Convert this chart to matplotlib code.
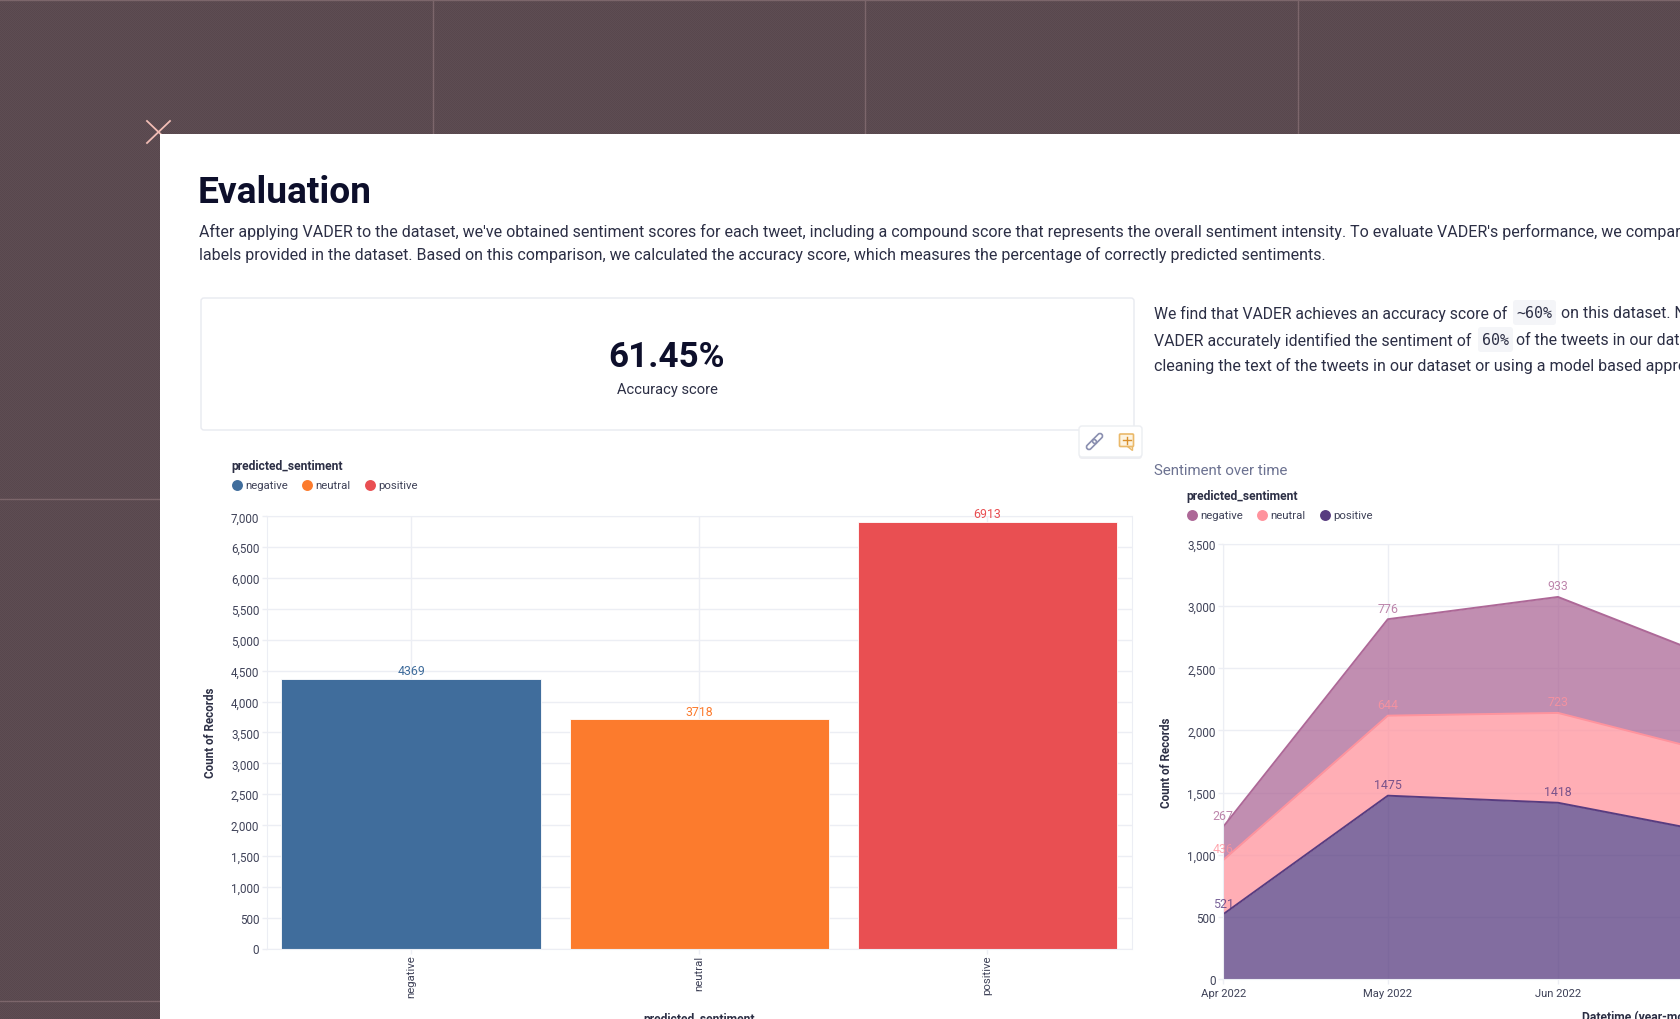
from datetime import date

import matplotlib
matplotlib.use("Agg")
import matplotlib.dates as mdates
import matplotlib.pyplot as plt
import numpy as np
from matplotlib.patches import FancyBboxPatch, Polygon, Rectangle
from matplotlib.ticker import FuncFormatter
from matplotlib.transforms import Affine2D

plt.rcParams["font.family"] = ["Roboto", "DejaVu Sans"]

# Bar chart data
sentiments = ["negative", "neutral", "positive"]
sentiment_counts = [4369, 3718, 6913]
bar_colors = ["#406d9c", "#fc7b2d", "#e94f52"]
bar_ticks = list(range(0, 7001, 500))

# Area chart data (July is only partly visible, it runs off the page)
months = [date(2022, 4, 1), date(2022, 5, 1), date(2022, 6, 1), date(2022, 7, 1)]
month_labels = ["Apr 2022", "May 2022", "Jun 2022"]
positive_by_month = [521, 1475, 1418, 1163]
neutral_by_month = [436, 644, 723, 640]
negative_by_month = [267, 776, 933, 752]
area_colors = {"negative": "#ad6897", "neutral": "#ff939d", "positive": "#583c80"}
area_ticks = list(range(0, 3501, 500))

# Text of the page
body_lines = [
    "After applying VADER to the dataset, we've obtained sentiment scores for each tweet, including a compound score that represents the overall sentiment intensity. To evaluate VADER's performance, we compar",
    "labels provided in the dataset. Based on this comparison, we calculated the accuracy score, which measures the percentage of correctly predicted sentiments.",
]
accuracy_text = "61.45%"

INK = "#0d0f2b"
BODY = "#2c2f45"
TICK = "#3f4258"
GRID = "#eceef4"
PAGE_BG = "#5b4a50"
W, H = 1680, 1020

fig = plt.figure(figsize=(W / 100, H / 100), dpi=100, facecolor=PAGE_BG)

# Page coordinates in pixels, origin top left
page = fig.add_axes([0, 0, 1, 1])
page.axis("off")

# Fine dither of the dark background
yy, xx = np.mgrid[0:H, 0:W]
dither = np.where((xx + yy) % 2 == 0, 3, -3)[..., None] + np.array([0x5b, 0x4a, 0x50])
page.imshow(dither.astype(np.uint8), extent=(0, W, H, 0), interpolation="nearest", aspect="auto", zorder=0)
page.set_xlim(0, W)
page.set_ylim(H, 0)


def inset(left, top, right, bottom):
    return fig.add_axes([left / W, 1 - bottom / H, (right - left) / W, (bottom - top) / H])


# Background lines and corner cross
for x in [433, 865, 1298]:
    page.plot([x, x], [0, 134], color="#7c666b", lw=1)
page.plot([0, W], [0.5, 0.5], color="#7c666b", lw=1)
page.plot([0, 160], [500, 500], color="#7c666b", lw=1)
page.plot([0, 160], [1002, 1002], color="#7c666b", lw=1)
page.plot([147, 170], [144, 122], color="#f2bdb5", lw=1.3)
page.plot([147, 170], [122, 144], color="#f2bdb5", lw=1.3)

# White panel
page.add_patch(Rectangle((160, 134.5), W - 160, H - 134, fc="white", ec="none", zorder=2))

page.text(198, 193, "Evaluation", fontsize=26.7, fontweight="bold", color=INK, va="center", zorder=3)
for y, line in zip([232, 255], body_lines):
    page.text(199, y, line, fontsize=11.55, color=BODY, va="center", zorder=3)

# Accuracy card
page.add_patch(FancyBboxPatch((201, 299), 933, 132, boxstyle="round,pad=0,rounding_size=3",
                              fc="white", ec="#e8eaf0", lw=1, zorder=3))
page.text(667, 358, accuracy_text, fontsize=25.2, fontweight="bold", color=INK, ha="center", va="center", zorder=4)
page.text(667, 390, "Accuracy score", fontsize=10.6, color=BODY, ha="center", va="center", zorder=4)

# Right paragraph with inline code chips
for x0, x1, y0, y1 in [(1513, 1556, 301, 326), (1478, 1513, 328, 353)]:
    page.add_patch(FancyBboxPatch((x0, y0), x1 - x0, y1 - y0, boxstyle="round,pad=0,rounding_size=3",
                                  fc="#f4f5f8", ec="none", zorder=3))
page.text(1154, 314, "We find that VADER achieves an accuracy score of", fontsize=11.3, color=BODY, va="center", zorder=4)
page.text(1534.5, 314, "~60%", fontsize=10.8, family="DejaVu Sans Mono", color=BODY, ha="center", va="center", zorder=4)
page.text(1561, 314, "on this dataset. N", fontsize=11.4, color=BODY, va="center", zorder=4)
page.text(1154, 341, "VADER accurately identified the sentiment of", fontsize=11.45, color=BODY, va="center", zorder=4)
page.text(1495.5, 341, "60%", fontsize=10.8, family="DejaVu Sans Mono", color=BODY, ha="center", va="center", zorder=4)
page.text(1516.5, 341, "of the tweets in our dat", fontsize=11.4, color=BODY, va="center", zorder=4)
page.text(1154, 366, "cleaning the text of the tweets in our dataset or using a model based appro", fontsize=11.5, color=BODY, va="center", zorder=4)

# Floating toolbar
page.add_patch(FancyBboxPatch((1079, 428), 63, 32, boxstyle="round,pad=0,rounding_size=3",
                              fc="#e3e4ea", ec="none", alpha=0.6, zorder=5))
page.add_patch(FancyBboxPatch((1079, 427), 63, 31, boxstyle="round,pad=0,rounding_size=3",
                              fc="white", ec="#eceef2", lw=1, zorder=6))
for cx, cy in [(1091.5, 445.5), (1097.5, 439.5)]:
    link = FancyBboxPatch((cx - 6, cy - 2.5), 12, 5, boxstyle="round,pad=0,rounding_size=2.5",
                          fc="none", ec="#8a8fb0", lw=1.2, zorder=7)
    link.set_transform(Affine2D().rotate_deg_around(cx, cy, -45) + page.transData)
    page.add_patch(link)
page.add_patch(Polygon([(1127, 447), (1132, 447), (1132, 451)], fc="#fdf3e0", ec="#eab96a", lw=1, zorder=7))
page.add_patch(FancyBboxPatch((1119.5, 435), 14, 12.5, boxstyle="round,pad=0,rounding_size=1",
                              fc="#fdf3e0", ec="#eab96a", lw=1.2, zorder=7))
page.plot([1126.5, 1126.5], [437.5, 445], color="#d98f2b", lw=1, zorder=8)
page.plot([1122.5, 1130.5], [441.2, 441.2], color="#d98f2b", lw=1, zorder=8)

page.text(1154, 471.5, "Sentiment over time", fontsize=10.8, color="#6c7291", va="center", zorder=3)


def legend(title_x, title_y, dots, colors):
    page.text(title_x, title_y + 1, "predicted_sentiment", fontsize=8.7, fontweight="bold", color=BODY, va="center", zorder=3)
    for (dot_x, name), color in zip(dots, colors):
        page.scatter([dot_x], [title_y + 20], s=62, color=color, linewidths=0, zorder=3)
        page.text(dot_x + 8.5, title_y + 20, name, fontsize=8.2, color=TICK, va="center", zorder=3)


legend(231, 466, [(237, "negative"), (307, "neutral"), (370, "positive")], bar_colors)
legend(1186, 496, [(1192, "negative"), (1262, "neutral"), (1325, "positive")],
       [area_colors[s] for s in sentiments])


def style_axes(ax):
    ax.set_axisbelow(True)
    ax.grid(True, color=GRID, lw=1)
    for spine in ax.spines.values():
        spine.set_color(GRID)
    ax.tick_params(colors=GRID, length=3.5, width=1, labelcolor=TICK, labelsize=8.4, pad=2)
    ax.yaxis.set_major_formatter(FuncFormatter(lambda v, _: f"{int(v):,}"))


# Bars
ax = inset(267, 517.3, 1131.5, 949.5)
style_axes(ax)
bars = ax.bar(sentiments, sentiment_counts, width=0.9, color=bar_colors, edgecolor="white", linewidth=0.6)
ax.set_xlim(-0.5, 2.5)
ax.set_ylim(0, 7000)
ax.set_yticks(bar_ticks)
ax.tick_params(axis="x", labelrotation=90, pad=1, labelsize=8.2)
for label in ax.get_xticklabels():
    label.set_verticalalignment("top")
for rect, value, color in zip(bars, sentiment_counts, bar_colors):
    ax.annotate(str(value), (rect.get_x() + rect.get_width() / 2, value), xytext=(0, 1),
                textcoords="offset points", ha="center", va="bottom", fontsize=8.9, color=color,
                annotation_clip=False)
ax.set_ylabel("Count of Records", fontsize=8.4, fontweight="bold", color=BODY)
ax.yaxis.set_label_coords(216.5, 733, transform=page.transData)
ax.set_xlabel("predicted_sentiment", fontsize=8.7, fontweight="bold", color=BODY)
ax.xaxis.set_label_coords(699, 1020, transform=page.transData)
ax.xaxis.label.set_verticalalignment("center")

# Stacked areas
ax2 = inset(1223.2, 545, W, 980)
style_axes(ax2)
ax2.spines["right"].set_visible(False)
ax2.tick_params(axis="x", pad=3, labelsize=8.1)
x = mdates.date2num(months)
neutral_top = [p + n for p, n in zip(positive_by_month, neutral_by_month)]
negative_top = [t + n for t, n in zip(neutral_top, negative_by_month)]
layers = [
    ("positive", [0, 0, 0, 0], positive_by_month, positive_by_month),
    ("neutral", positive_by_month, neutral_top, neutral_by_month),
    ("negative", neutral_top, negative_top, negative_by_month),
]
for name, lower, upper, values in layers:
    color = area_colors[name]
    ax2.fill_between(x, lower, upper, color=color, alpha=0.75, linewidth=0)
    ax2.plot(x, upper, color=color, lw=1.4, clip_on=True)
    # July's point is past the page edge, so only the first three get a label
    for xi, top, value in zip(x[:3], upper[:3], values[:3]):
        ax2.annotate(str(value), (xi, top), xytext=(0, 8), textcoords="offset points",
                     ha="center", va="center", fontsize=8.9, color=color, alpha=0.8, annotation_clip=False)
ax2.set_xlim(x[0], x[0] + (W - 1223.2) / 5.488)
ax2.set_ylim(0, 3500)
ax2.set_yticks(area_ticks)
ax2.set_xticks(x[:3])
ax2.set_xticklabels(month_labels)
ax2.set_ylabel("Count of Records", fontsize=8.4, fontweight="bold", color=BODY)
ax2.yaxis.set_label_coords(1172.5, 763, transform=page.transData)
ax2.set_xlabel("Datetime (year-month)", fontsize=8.7, fontweight="bold", color=BODY, ha="left")
ax2.xaxis.set_label_coords(1582, 1017, transform=page.transData)
ax2.xaxis.label.set_verticalalignment("center")

fig.savefig("out.png", dpi=100, facecolor=PAGE_BG)
